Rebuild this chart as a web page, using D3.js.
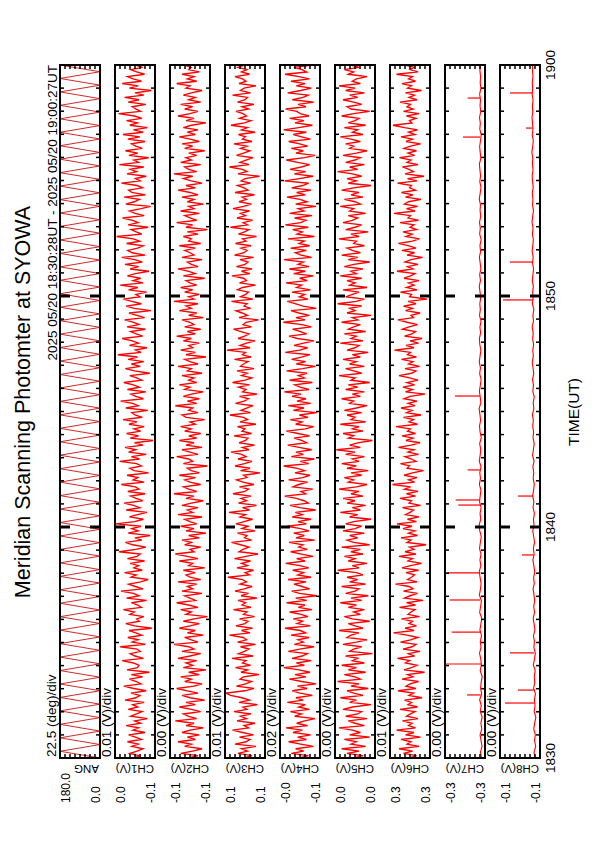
<!DOCTYPE html>
<html>
<head>
<meta charset="utf-8">
<script src="https://cdn.jsdelivr.net/npm/d3@7"></script>
<style>
  body { margin: 0; background: #fff; }
  svg { display: block; font-family: "Liberation Sans", Arial, sans-serif; }
</style>
</head>
<body>
<svg id="chart" width="595" height="842"></svg>
<script>
// ---- data ----
const title = "Meridian Scanning Photomter at SYOWA";
const period = "2025 05/20 18:30:28UT - 2025 05/20 19:00:27UT";
const channels = ["ANG", "CH1(V)", "CH2(V)", "CH3(V)", "CH4(V)", "CH5(V)", "CH6(V)", "CH7(V)", "CH8(V)"];
const divLabels = ["22.5 (deg)/div", "0.01 (V)/div", "0.00 (V)/div", "0.01 (V)/div", "0.02 (V)/div",
  "0.00 (V)/div", "0.01 (V)/div", "0.00 (V)/div", "0.00 (V)/div"];
const maxLabels = ["180.0", "0.0", "-0.1", "0.1", "-0.0", "0.0", "0.3", "-0.3", "-0.1"];
const minLabels = ["0.0", "-0.1", "-0.1", "0.1", "-0.1", "0.0", "0.3", "-0.3", "-0.1"];
// [min, max] of each panel: degrees for ANG, mV for the channels
const ranges = [[0, 180], [-60, 40], [-115, -85], [50, 130], [-130, -10], [10, 40], [260, 340], [-335, -305], [-115, -85]];
const timeLabels = ["1830", "1840", "1850", "1900"];

// scan angle at each turn of the sweep (deg)
const ang = [
  0,180,0,180,0,180,0,180,0,180,0,180,0,180,0,180,0,180,0,180,
  0,180,0,180,0,180,0,180,0,180,0,180,0,180,0,180,0,180,0,180,
  0,180,0,180,0,180,0,180,0,180,0,180,0,180,0,180,0,180,0,180,
  0,180,0,180,0,180,0,180,0,180,0,180,0,180,0,180,0,180,0,180,
  0,180,0,180,0,180,0,180,0,180,0,180,0,180,0,180,0,180,0,180,
  0,180,0,180
];

// channel readings in mV, evenly spaced over 18:30 - 19:00
const ch1 = [
  -8, -21, 3, -15, -30, -2, -18, 9, -26, -11, 6, -35, -5, -19, 12, -24, -9, -41, 1, -14,
  -28, 7, -17, -4, -33, 15, -12, -22, 0, -38, -7, 18, -25, -13, 4, -29, -1, -46, 10, -16,
  -20, -6, 22, -31, -10, 2, -23, -15, 27, -36, -3, -18, 8, -27, -12, 5, -52, -9, 13, -21,
  -14, -32, 3, -8, 19, -26, -17, -1, -39, 11, -20, -6, 25, -30, -11, 6, -24, -43, 0, -13,
  16, -28, -7, -19, 2, -34, 9, -15, -23, 30, -12, -37, -4, 14, -27, -10, -48, 7, -18, -2,
  -25, 38, -9, -31, 4, -16, -40, 12, -22, -6, 17, -29, -13, 1, -35, 8, -20, -11, 24, -33,
  -5, -17, 10, -44, -8, 3, -26, -14, 28, -21, -1, -38, 6, -12, 15, -30, -9, -55, 2, -19,
  11, -24, -7, -33, 5, -15, 20, -28, -10, -2, -42, 13, -18, -4, 26, -31, -12, 0, -37, 9,
  -21, -6, 18, -27, -14, 3, -47, -9, 14, -23, -1, -32, 7, -16, 33, -25, -11, -40, 4, -19,
  -3, 22, -29, -13, 1, -36, 10, -20, -7, 16, -34, -15, 5, -50, -8, 12, -26, -2, 19, -22,
  -12, -39, 6, -17, 27, -30, -5, -24, 9, -11, -45, 2, -19, 15, -28, -9, 23, -35, -3, 8,
  -16, -31, 11, -22, -6, 36, -27, -13, 0, -43, 7, -18, -4, 21, -33, -10, 4, -25, -49, 13,
  -8, -21, 17, -36, -2, 6, -29, -15, 24, -23, -11, -38, 10, -14, 2, -32, 29, -19, -7, -44,
  5, -17, 14, -28, -12, -1, -35, 8, -22, 20, -30, -6, -41, 3, -16, 11, -27, -9, 31, -24,
  -13, -3, -37, 7, -20, 16, -32, -10, -51, 4, -18, 22, -26, -5, 9, -34, -14, 1, -29, -11
];
const ch2 = [
  -99, -106, -93, -102, -109, -96, -101, -91, -104, -98, -107, -94, -100, -110, -97, -103, -89, -105, -99, -95,
  -108, -101, -92, -104, -97, -111, -100, -94, -106, -98, -90, -103, -109, -96, -101, -93, -107, -99, -112, -95,
  -102, -97, -105, -91, -100, -108, -94, -103, -99, -88, -106, -101, -96, -110, -98, -104, -92, -100, -107, -95,
  -103, -113, -97, -101, -93, -106, -99, -90, -104, -100, -96, -109, -94, -102, -98, -105, -91, -108, -100, -97,
  -104, -95, -111, -99, -102, -92, -106, -98, -89, -103, -100, -108, -96, -101, -94, -107, -99, -112, -97, -103,
  -93, -105, -100, -96, -109, -91, -102, -98, -106, -94, -101, -110, -97, -103, -88, -105, -99, -95, -108, -100,
  -96, -104, -92, -107, -101, -98, -113, -95, -102, -99, -90, -106, -100, -94, -109, -97, -103, -92, -105, -99,
  -108, -96, -101, -93, -104, -100, -111, -97, -94, -106, -99, -102, -89, -105, -98, -107, -95, -101, -110, -96,
  -100, -92, -105, -99, -103, -94, -109, -98, -101, -91, -106, -100, -96, -112, -97, -104, -93, -102, -99, -107,
  -95, -101, -90, -104, -98, -108, -96, -103, -100, -94, -110, -99, -105, -92, -101, -97, -106, -88, -103, -99,
  -107, -96, -102, -93, -105, -100, -97, -111, -95, -104, -99, -91, -106, -101, -98, -109, -94, -103, -100, -96,
  -104, -92, -108, -99, -101, -95, -106, -98, -113, -97, -102, -90, -105, -100, -96, -107, -93, -103, -99, -110,
  -98, -103, -94, -106, -100, -91, -104, -97, -109, -101, -95, -102, -88, -105, -99, -96, -108, -93, -101, -97,
  -105, -99, -111, -96, -102, -94, -107, -100, -92, -104, -98, -106, -95, -101, -112, -97, -103, -91, -100, -106,
  -96, -102, -93, -108, -99, -104, -95, -101, -109, -97, -100, -90, -105, -98, -103, -94, -107, -99, -101, -96
];
const ch3 = [
  91, 76, 104, 85, 97, 68, 110, 88, 80, 101, 73, 95, 115, 83, 92, 70, 106, 87, 99, 78,
  112, 86, 94, 65, 102, 81, 96, 119, 128, 90, 72, 107, 89, 77, 100, 93, 62, 98, 85, 109,
  79, 95, 88, 116, 74, 103, 91, 82, 99, 69, 105, 87, 94, 121, 80, 97, 75, 108, 90, 84,
  101, 71, 93, 86, 113, 78, 96, 89, 104, 66, 98, 83, 110, 92, 76, 100, 87, 95, 124, 81,
  90, 73, 106, 85, 97, 79, 111, 88, 64, 102, 94, 82, 99, 117, 77, 91, 86, 105, 70, 96,
  84, 108, 92, 75, 100, 89, 122, 81, 95, 67, 103, 87, 98, 78, 114, 90, 83, 101, 72, 94,
  107, 86, 93, 60, 99, 80, 110, 91, 76, 104, 88, 97, 118, 82, 95, 71, 102, 89, 84, 112,
  77, 96, 90, 105, 68, 100, 85, 93, 120, 79, 98, 87, 74, 109, 92, 83, 101, 66, 95, 88,
  103, 81, 115, 90, 76, 97, 86, 106, 72, 99, 93, 84, 111, 78, 95, 89, 126, 80, 100, 87,
  70, 104, 91, 82, 98, 113, 77, 94, 88, 63, 102, 85, 96, 108, 79, 92, 86, 117, 74, 99,
  89, 83, 105, 95, 69, 101, 87, 93, 116, 80, 97, 76, 107, 90, 84, 100, 73, 111, 92, 86,
  98, 78, 109, 88, 95, 67, 103, 91, 82, 119, 85, 94, 75, 106, 89, 99, 81, 114, 93, 77,
  102, 87, 96, 71, 110, 84, 92, 105, 79, 98, 90, 61, 104, 86, 95, 121, 82, 100, 88, 74,
  107, 93, 80, 99, 86, 112, 76, 95, 89, 103, 70, 97, 85, 118, 91, 78, 101, 87, 94, 108,
  83, 96, 72, 105, 90, 85, 115, 79, 99, 92, 68, 102, 88, 95, 110, 81, 97, 86, 104, 91
];
const ch4 = [
  -68, -95, -44, -81, -57, -110, -72, -36, -89, -63, -102, -49, -77, -28, -93, -60, -84, -115, -54, -74,
  -41, -98, -66, -86, -32, -79, -58, -107, -70, -47, -91, -62, -118, -75, -38, -88, -55, -100, -67, -22,
  -83, -59, -104, -46, -76, -92, -35, -69, -112, -53, -80, -64, -97, -43, -87, -71, -25, -101, -61, -78,
  -50, -94, -73, -39, -106, -65, -85, -30, -90, -57, -120, -68, -45, -99, -76, -52, -88, -34, -103, -63,
  -81, -48, -96, -70, -27, -85, -60, -109, -74, -42, -92, -66, -79, -37, -114, -58, -83, -51, -97, -72,
  -31, -89, -64, -103, -47, -77, -56, -117, -69, -40, -95, -82, -59, -24, -87, -73, -108, -49, -66, -93,
  -36, -78, -100, -55, -84, -62, -21, -96, -71, -113, -44, -80, -58, -105, -67, -33, -90, -75, -52, -99,
  -64, -29, -86, -111, -57, -76, -41, -94, -68, -120, -50, -82, -35, -102, -61, -88, -46, -73, -23, -97,
  -70, -54, -107, -39, -83, -65, -91, -30, -78, -116, -59, -87, -45, -74, -100, -26, -69, -93, -52, -81,
  -112, -62, -37, -90, -71, -48, -104, -76, -20, -85, -58, -98, -66, -43, -119, -79, -55, -32, -94, -68,
  -84, -46, -101, -60, -75, -28, -92, -69, -110, -51, -86, -38, -97, -64, -80, -22, -105, -73, -56, -89,
  -42, -99, -67, -83, -34, -113, -61, -77, -48, -95, -26, -72, -88, -54, -106, -39, -82, -65, -118, -57,
  -91, -70, -31, -86, -60, -103, -45, -78, -96, -24, -68, -109, -53, -87, -40, -74, -99, -63, -29, -84,
  -115, -58, -80, -44, -93, -69, -36, -101, -75, -50, -89, -21, -66, -107, -55, -82, -39, -97, -71, -60,
  -27, -88, -64, -111, -47, -79, -95, -33, -72, -104, -59, -85, -43, -98, -67, -25, -90, -76, -52, -108
];
const ch5 = [
  26, 19, 31, 22, 35, 17, 28, 24, 33, 14, 29, 21, 27, 37, 18, 25, 30, 16, 32, 23,
  20, 34, 27, 13, 29, 24, 36, 19, 26, 31, 15, 28, 22, 38, 21, 25, 33, 17, 30, 24,
  35, 18, 27, 23, 32, 12, 29, 26, 20, 34, 24, 16, 31, 28, 22, 37, 19, 25, 30, 14,
  27, 33, 21, 26, 18, 30, 24, 36, 20, 28, 15, 32, 25, 22, 35, 17, 29, 23, 31, 19,
  24, 38, 22, 27, 16, 30, 25, 33, 19, 28, 21, 35, 14, 26, 31, 23, 29, 18, 34, 25,
  20, 32, 26, 13, 29, 23, 36, 21, 27, 17, 31, 25, 34, 19, 28, 22, 37, 24, 16, 30,
  26, 33, 20, 28, 15, 31, 24, 35, 22, 27, 18, 32, 25, 39, 21, 29, 23, 12, 30, 26,
  34, 19, 27, 22, 36, 17, 28, 25, 31, 20, 33, 24, 16, 29, 26, 35, 21, 27, 18, 32,
  23, 30, 14, 28, 25, 37, 20, 26, 32, 18, 29, 24, 34, 21, 27, 15, 31, 25, 22, 36,
  19, 28, 24, 33, 17, 30, 26, 21, 35, 23, 27, 13, 31, 25, 29, 20, 38, 24, 18, 32,
  27, 22, 34, 16, 29, 25, 31, 20, 36, 24, 28, 19, 33, 26, 14, 30, 23, 35, 21, 27,
  31, 18, 26, 24, 37, 22, 28, 15, 32, 25, 20, 34, 27, 23, 30, 17, 29, 26, 36, 21,
  25, 33, 19, 28, 22, 35, 26, 13, 30, 24, 31, 20, 27, 38, 23, 29, 18, 32, 25, 21,
  34, 24, 16, 29, 26, 32, 21, 28, 36, 19, 27, 23, 33, 17, 30, 25, 22, 35, 26, 14,
  28, 31, 20, 26, 34, 23, 29, 18, 32, 25, 37, 21, 27, 24, 16, 30, 26, 33, 22, 28
];
const ch6 = [
  301, 287, 313, 295, 322, 282, 306, 298, 318, 279, 309, 292, 327, 289, 303, 296, 315, 284, 307, 299,
  290, 320, 285, 304, 297, 311, 276, 302, 293, 324, 288, 308, 300, 283, 316, 294, 305, 271, 312, 297,
  286, 309, 301, 325, 291, 303, 280, 314, 296, 288, 319, 299, 284, 306, 333, 292, 310, 287, 302, 295,
  317, 281, 304, 298, 290, 321, 289, 307, 274, 311, 300, 285, 313, 294, 302, 329, 286, 305, 297, 291,
  308, 283, 316, 299, 277, 304, 295, 322, 288, 310, 292, 301, 268, 306, 298, 318, 285, 303, 290, 314,
  296, 326, 287, 305, 282, 309, 300, 293, 315, 279, 302, 297, 320, 289, 307, 284, 311, 299, 335, 291,
  303, 286, 312, 295, 273, 306, 301, 319, 288, 297, 310, 283, 304, 292, 323, 298, 280, 308, 294, 316,
  289, 305, 299, 328, 285, 302, 293, 313, 278, 307, 296, 318, 290, 304, 286, 312, 300, 270, 309, 295,
  314, 291, 306, 284, 301, 322, 297, 288, 310, 281, 303, 294, 317, 287, 305, 299, 331, 292, 308, 283,
  300, 276, 311, 296, 289, 315, 302, 285, 306, 324, 293, 298, 280, 309, 295, 313, 288, 304, 266, 301,
  297, 319, 286, 307, 292, 303, 282, 312, 299, 290, 326, 294, 305, 284, 310, 298, 275, 306, 291, 316,
  288, 302, 323, 295, 281, 308, 296, 314, 287, 300, 292, 320, 283, 304, 299, 332, 290, 307, 285, 311,
  303, 278, 309, 294, 317, 289, 301, 297, 325, 286, 305, 272, 310, 293, 302, 315, 284, 306, 298, 321,
  291, 304, 287, 312, 299, 279, 308, 295, 318, 290, 303, 285, 311, 334, 296, 301, 288, 307, 282, 313,
  294, 306, 299, 320, 286, 302, 291, 309, 277, 305, 297, 316, 289, 303, 295, 327, 284, 300, 292, 310
];
const ch7 = [
  -332.4, -331.6, -332.8, -332.0, -331.3, -332.6, -331.9, -332.9, -331.5, -332.2,
  -331.0, -332.5, -331.7, -332.1, -332.9, -331.4, -332.3, -331.8, -330.9, -332.0,
  -331.5, -332.4, -331.2, -331.9, -332.6, -331.0, -331.7, -332.3, -330.8, -331.6,
  -332.1, -331.3, -330.7, -331.9, -331.2, -332.0, -330.9, -331.5, -332.2, -331.1,
  -330.6, -331.8, -331.3, -332.1, -330.9, -331.4, -331.9, -330.8, -331.6, -331.1,
  -332.0, -330.7, -331.4, -331.8, -331.0, -332.2, -331.3, -330.9, -331.7, -331.2,
  -330.6, -331.9, -331.4, -330.8, -331.5, -332.1, -331.0, -331.6, -330.7, -331.3,
  -331.9, -331.1, -330.8, -331.7, -331.2, -332.0, -330.9, -331.5, -331.1, -331.8,
  -331.3, -330.7, -331.6, -331.0, -331.9, -331.4, -330.8, -331.7, -331.2, -332.1,
  -331.0, -331.5, -330.9, -331.8, -331.3, -331.6, -330.7, -331.4, -332.0, -331.1,
  -331.7, -331.2, -330.8, -331.9, -331.4, -331.0, -331.6, -332.2, -331.1, -331.5,
  -330.9, -331.8, -331.3, -331.6, -331.0, -331.9, -331.4, -331.7, -331.2, -331.5
];
const ch8 = [
  -111.2, -110.5, -111.8, -110.9, -111.5, -110.3, -111.0, -111.9, -110.6, -111.3,
  -110.8, -111.6, -110.2, -111.1, -110.7, -111.4, -110.0, -110.9, -111.5, -110.4,
  -110.8, -110.1, -111.2, -110.6, -109.9, -110.9, -110.3, -111.0, -110.5, -109.8,
  -110.7, -110.2, -111.1, -110.4, -109.7, -110.6, -110.0, -110.9, -110.3, -109.6,
  -110.5, -110.1, -110.8, -109.8, -110.4, -109.5, -110.2, -110.7, -109.9, -110.3,
  -109.7, -110.5, -109.4, -110.1, -110.6, -109.8, -110.2, -109.5, -110.0, -109.3,
  -110.4, -109.9, -110.7, -109.6, -110.1, -109.4, -110.3, -109.8, -109.2, -110.0,
  -109.6, -110.2, -109.5, -109.9, -109.1, -110.1, -109.7, -110.4, -109.3, -109.8,
  -109.5, -110.0, -109.2, -109.7, -110.2, -109.4, -109.9, -109.1, -109.6, -110.0,
  -109.3, -109.8, -109.0, -109.5, -110.1, -109.4, -109.7, -109.2, -109.9, -109.4,
  -109.1, -109.8, -109.3, -109.6, -108.9, -109.5, -110.0, -109.2, -109.7, -109.4,
  -109.0, -109.6, -109.3, -109.8, -109.1, -109.5, -109.2, -109.7, -109.4, -109.3
];
// short brightenings: [minutes after 18:30, base mV, peak mV]
const ch7Spikes = [
  [2.73, -331.8, -321.5], [4.07, -332.0, -305.5], [5.45, -331.7, -310], [6.84, -331.5, -308.5],
  [8.01, -331.6, -306.5], [10.95, -331.3, -315], [11.17, -331.3, -313], [12.47, -331.2, -322],
  [15.67, -331.4, -312.5], [26.88, -331.3, -318.5], [28.57, -331.5, -322]
];
const ch8Spikes = [
  [2.38, -111.0, -88.75], [2.94, -110.9, -98.5], [4.55, -110.6, -92.5], [8.79, -110.2, -101.5],
  [11.34, -110.0, -98.5], [19.83, -109.6, -87.25], [21.47, -109.5, -92.5], [27.27, -109.3, -104.5],
  [28.79, -109.4, -92.5]
];

const series = [ang, ch1, ch2, ch3, ch4, ch5, ch6, ch7, ch8];
const spikes = { 7: ch7Spikes, 8: ch8Spikes };

// ---- layout ----
const svg = d3.select("#chart");
const yTop = 65, yBottom = 758, left0 = 60, pitch = 55, pw = 40;

const t0 = new Date(Date.UTC(2025, 4, 20, 18, 30));
const t1 = new Date(Date.UTC(2025, 4, 20, 19, 0));
const y = d3.scaleUtc().domain([t0, t1]).range([yBottom, yTop]);
const timeAt = (i, n) => new Date(+t0 + i * (t1 - t0) / (n - 1));
const minute = m => new Date(+t0 + m * 60000);

const minuteTicks = y.ticks(d3.utcMinute.every(1));

series.forEach((vals, i) => {
  const x0 = left0 + i * pitch;
  const [lo, hi] = ranges[i];
  const x = d3.scaleLinear().domain([lo, hi]).range([x0 + pw, x0]);
  const g = svg.append("g");

  g.append("clipPath").attr("id", "clip" + i)
    .append("rect").attr("x", x0).attr("y", yTop).attr("width", pw).attr("height", yBottom - yTop);

  const line = d3.line().x(d => x(d[1])).y(d => y(d[0]));
  const plot = g.append("g").attr("clip-path", `url(#clip${i})`);

  plot.append("path")
    .datum(vals.map((v, k) => [timeAt(k, vals.length), v]))
    .attr("d", line)
    .attr("fill", "none")
    .attr("stroke", i === 0 ? "#cc1010" : "#ff0000")
    .attr("stroke-width", i === 0 ? 0.9 : (i >= 7 ? 1.1 : 1.35));

  if (spikes[i]) {
    plot.selectAll("path.spike")
      .data(spikes[i])
      .enter().append("path")
      .attr("class", "spike")
      .attr("d", s => line([[minute(s[0]), s[1]], [minute(s[0]), s[2]]]))
      .attr("stroke", "#ff0000")
      .attr("stroke-width", 1.2);
  }

  // time ticks on both long sides
  minuteTicks.forEach(t => {
    const m = t.getUTCMinutes();
    if (+t === +t0 || +t === +t1) return;
    const major = m % 10 === 0;
    const len = major ? 10 : 4;
    [[x0, x0 + len], [x0 + pw, x0 + pw - len]].forEach(([a, b]) => {
      g.append("line")
        .attr("x1", a).attr("x2", b)
        .attr("y1", y(t)).attr("y2", y(t))
        .attr("stroke", "#000")
        .attr("stroke-width", major ? 3 : 1.5);
    });
  });

  // value divisions on the short sides
  d3.range(1, 8).forEach(k => {
    const xv = x(lo + k * (hi - lo) / 8);
    [[yTop, yTop + 4], [yBottom, yBottom - 4]].forEach(([a, b]) => {
      g.append("line")
        .attr("x1", xv).attr("x2", xv)
        .attr("y1", a).attr("y2", b)
        .attr("stroke", "#000")
        .attr("stroke-width", 1.5);
    });
  });

  g.append("rect")
    .attr("x", x0).attr("y", yTop)
    .attr("width", pw).attr("height", yBottom - yTop)
    .attr("fill", "none")
    .attr("stroke", "#000")
    .attr("stroke-width", 2);

  // scale per division
  g.append("text")
    .attr("transform", `translate(${x0 - 4},${yBottom - 1}) rotate(-90)`)
    .attr("font-size", 13.5)
    .text(divLabels[i]);

  // channel name (upside down)
  g.append("text")
    .attr("transform", `translate(${x0 + pw - 1},765) rotate(180)`)
    .attr("font-size", 11.5)
    .text(channels[i]);

  // range end values
  g.append("text")
    .attr("transform", `translate(${x0 + 9.5},803) rotate(-90)`)
    .attr("font-size", 12)
    .text(maxLabels[i]);
  g.append("text")
    .attr("transform", `translate(${x0 + pw - 0.5},803) rotate(-90)`)
    .attr("font-size", 12)
    .text(minLabels[i]);
});

// time axis labels
const labelTimes = [0, 10, 20, 30].map(minute);
svg.selectAll("text.tlabel")
  .data(labelTimes)
  .enter().append("text")
  .attr("class", "tlabel")
  .attr("transform", d => `translate(555,${y(d)}) rotate(-90)`)
  .attr("text-anchor", "middle")
  .attr("font-size", 13.5)
  .text((d, k) => timeLabels[k]);

svg.append("text")
  .attr("transform", "translate(579,412) rotate(-90)")
  .attr("text-anchor", "middle")
  .attr("font-size", 15.5)
  .text("TIME(UT)");

svg.append("text")
  .attr("transform", `translate(57,${yTop}) rotate(-90)`)
  .attr("text-anchor", "end")
  .attr("font-size", 13.5)
  .text(period);

svg.append("text")
  .attr("transform", "translate(30,402) rotate(-90)")
  .attr("text-anchor", "middle")
  .attr("font-size", 21.5)
  .text(title);
</script>
</body>
</html>
